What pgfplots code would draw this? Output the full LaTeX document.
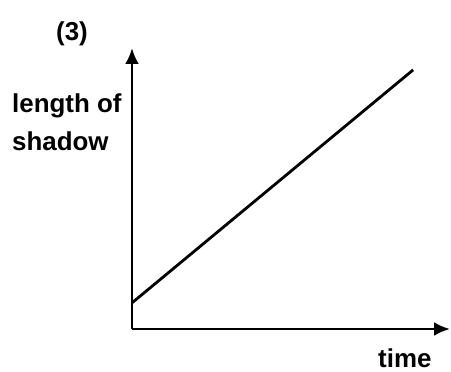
\documentclass[border=0pt]{standalone}
\usepackage{fontspec}
\setmainfont{Liberation Sans}
\usepackage{pgfplots}
\pgfplotsset{compat=1.18}
\usetikzlibrary{arrows.meta}
\begin{document}
\begin{tikzpicture}
\useasboundingbox (0bp,0bp) rectangle (451bp,372bp);
\begin{axis}[
  at={(132bp,43bp)}, anchor=south west,
  scale only axis, width=318bp, height=281bp,
  xmin=0, xmax=10, ymin=0, ymax=10,
  axis lines=left,
  xtick=\empty, ytick=\empty,
  axis line style={line width=2.8bp, -{Latex[length=16bp,width=14bp]}},
  clip=false,
]
\addplot[black, line width=2.8bp] coordinates {(0,0.93) (8.84,9.22)};
\end{axis}
\begin{scope}[x=1bp, y=1bp, every node/.style={font=\fontsize{26}{30}\selectfont\bfseries, inner sep=0pt}]
\node[anchor=base] at (72,332) {(3)};
\node[anchor=base west] at (12,260) {length of};
\node[anchor=base west] at (12,222) {shadow};
\node[anchor=base west] at (378,5) {time};
\end{scope}
\end{tikzpicture}
\end{document}
